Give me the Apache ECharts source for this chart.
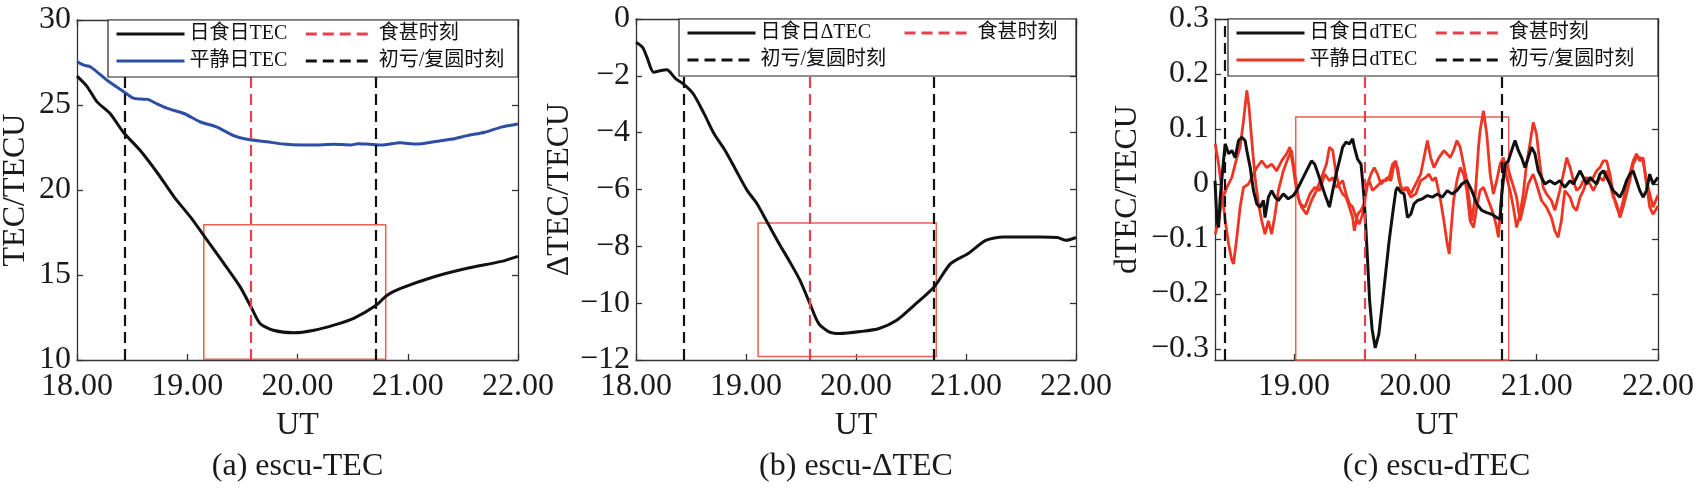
<!DOCTYPE html>
<html>
<head>
<meta charset="utf-8">
<script src="https://cdn.jsdelivr.net/npm/echarts/dist/echarts.min.js"></script>
<style>
  html, body { margin: 0; padding: 0; background: #fff; }
  #main { width: 1702px; height: 493px; }
</style>
</head>
<body>
<div id="main"></div>
<script>
// 字体：数字用衬线体，中文回退到思源黑体
var FONT = "'Liberation Serif', 'Noto Sans CJK SC', serif";

// ---- 事件时刻 (UT) ----
var eclipseMax = 19.58;            // 食甚时刻
var contactTimes = [18.435, 20.715]; // 初亏 / 复圆

// ---- (a) TEC ----
var aEclipseTime = [18.00, 18.09, 18.18, 18.30, 18.42, 18.57, 18.73, 18.88, 19.03, 19.18, 19.33, 19.48, 19.58, 19.66, 19.78, 19.97, 20.15, 20.33, 20.51, 20.71, 20.81, 20.93, 21.24, 21.54, 21.85, 22.00];
var aEclipseTEC = [26.7, 26.1, 25.2, 24.5, 23.4, 22.35, 21.0, 19.6, 18.4, 17.05, 15.7, 14.3, 13.1, 12.15, 11.75, 11.6, 11.75, 12.05, 12.45, 13.2, 13.8, 14.2, 14.9, 15.4, 15.8, 16.1];
var aQuietTime = [18.00, 18.06, 18.12, 18.20, 18.27, 18.35, 18.42, 18.51, 18.58, 18.64, 18.73, 18.82, 18.97, 19.12, 19.27, 19.42, 19.54, 19.72, 19.87, 20.04, 20.19, 20.33, 20.48, 20.55, 20.63, 20.78, 20.93, 21.08, 21.24, 21.39, 21.54, 21.70, 21.85, 22.00];
var aQuietTEC = [27.55, 27.35, 27.25, 26.85, 26.47, 26.1, 25.8, 25.4, 25.35, 25.33, 25.05, 24.8, 24.5, 24.0, 23.7, 23.2, 22.98, 22.84, 22.7, 22.65, 22.65, 22.69, 22.65, 22.72, 22.7, 22.65, 22.78, 22.7, 22.84, 22.98, 23.2, 23.4, 23.7, 23.88];
var aBoxTime = [19.15, 20.80];
var aBoxTEC = [10.05, 17.95];

// ---- (b) ΔTEC ----
var bTime = [18.00, 18.06, 18.10, 18.16, 18.23, 18.28, 18.36, 18.43, 18.52, 18.62, 18.71, 18.81, 18.91, 19.01, 19.10, 19.20, 19.30, 19.39, 19.49, 19.58, 19.66, 19.75, 19.85, 20.04, 20.21, 20.37, 20.53, 20.71, 20.86, 21.02, 21.18, 21.34, 21.51, 21.67, 21.83, 21.91, 22.00];
var bDeltaTEC = [-0.82, -1.0, -1.35, -1.87, -1.81, -1.79, -2.1, -2.28, -2.63, -3.34, -4.04, -4.63, -5.33, -6.03, -6.5, -7.2, -7.9, -8.49, -9.19, -10.01, -10.71, -11.0, -11.07, -11.0, -10.89, -10.6, -10.07, -9.43, -8.61, -8.25, -7.79, -7.67, -7.67, -7.67, -7.69, -7.79, -7.69];
var bBoxTime = [19.11, 20.73];
var bBoxTEC = [-11.88, -7.18];

// ---- (c) dTEC ----
var cEclipseTime = [18.350, 18.366, 18.380, 18.393, 18.420, 18.434, 18.462, 18.489, 18.516, 18.544, 18.571, 18.598, 18.612, 18.640, 18.667, 18.694, 18.722, 18.749, 18.762, 18.790, 18.817, 18.845, 18.872, 18.913, 18.954, 18.995, 19.022, 19.050, 19.077, 19.118, 19.145, 19.172, 19.200, 19.227, 19.254, 19.293, 19.320, 19.348, 19.375, 19.402, 19.430, 19.457, 19.484, 19.498, 19.525, 19.553, 19.566, 19.580, 19.594, 19.607, 19.624, 19.645, 19.670, 19.700, 19.730, 19.758, 19.785, 19.813, 19.840, 19.854, 19.881, 19.908, 19.936, 19.963, 19.990, 20.018, 20.059, 20.100, 20.141, 20.182, 20.223, 20.264, 20.302, 20.343, 20.384, 20.425, 20.466, 20.507, 20.548, 20.589, 20.630, 20.671, 20.699, 20.712, 20.740, 20.767, 20.794, 20.822, 20.849, 20.876, 20.904, 20.931, 20.958, 20.986, 21.013, 21.040, 21.068, 21.109, 21.150, 21.191, 21.232, 21.276, 21.303, 21.330, 21.358, 21.385, 21.412, 21.440, 21.467, 21.494, 21.522, 21.549, 21.577, 21.604, 21.631, 21.659, 21.686, 21.713, 21.741, 21.768, 21.795, 21.823, 21.850, 21.877, 21.905, 21.932, 21.959, 22.000];
var cEclipseDTEC = [0.006, -0.067, -0.079, -0.024, 0.042, 0.073, 0.055, 0.061, 0.048, 0.079, 0.085, 0.079, 0.061, 0.030, -0.012, -0.036, -0.042, -0.030, -0.061, -0.024, -0.012, -0.024, -0.030, -0.018, -0.027, -0.021, -0.012, 0.000, 0.012, 0.030, 0.042, 0.036, 0.018, 0.000, -0.018, -0.042, -0.012, 0.018, 0.042, 0.067, 0.076, 0.073, 0.082, 0.067, 0.045, 0.036, 0.006, -0.030, -0.085, -0.139, -0.212, -0.265, -0.298, -0.273, -0.215, -0.158, -0.103, -0.055, -0.012, -0.006, -0.015, -0.018, -0.061, -0.055, -0.036, -0.030, -0.027, -0.021, -0.024, -0.018, -0.024, -0.012, -0.018, -0.012, 0.000, 0.006, -0.012, -0.036, -0.048, -0.052, -0.055, -0.061, -0.064, -0.020, 0.036, 0.042, 0.061, 0.079, 0.061, 0.048, 0.030, 0.048, 0.067, 0.055, 0.024, 0.012, 0.000, 0.006, 0.000, 0.006, -0.006, 0.006, 0.000, 0.012, 0.024, 0.012, 0.000, 0.012, 0.006, 0.000, 0.018, 0.024, 0.012, 0.000, -0.012, -0.018, -0.024, -0.012, 0.006, 0.018, 0.024, 0.006, -0.012, -0.024, -0.012, 0.018, 0.000, 0.012];

var cQuiet1Time = [18.352, 18.380, 18.407, 18.448, 18.489, 18.530, 18.557, 18.585, 18.612, 18.631, 18.653, 18.680, 18.708, 18.735, 18.762, 18.790, 18.817, 18.845, 18.872, 18.913, 18.954, 18.981, 19.008, 19.036, 19.063, 19.104, 19.145, 19.186, 19.227, 19.268, 19.293, 19.320, 19.348, 19.375, 19.402, 19.430, 19.457, 19.484, 19.498, 19.525, 19.553, 19.580, 19.607, 19.635, 19.662, 19.689, 19.717, 19.744, 19.772, 19.799, 19.826, 19.854, 19.881, 19.908, 19.936, 19.963, 19.990, 20.018, 20.045, 20.072, 20.100, 20.127, 20.154, 20.195, 20.236, 20.261, 20.288, 20.316, 20.343, 20.370, 20.398, 20.425, 20.452, 20.466, 20.493, 20.521, 20.534, 20.562, 20.589, 20.617, 20.644, 20.671, 20.699, 20.726, 20.753, 20.781, 20.808, 20.835, 20.863, 20.890, 20.917, 20.945, 20.972, 20.999, 21.027, 21.054, 21.081, 21.122, 21.150, 21.191, 21.232, 21.248, 21.276, 21.303, 21.330, 21.358, 21.385, 21.412, 21.440, 21.467, 21.494, 21.522, 21.549, 21.577, 21.604, 21.631, 21.659, 21.686, 21.713, 21.741, 21.768, 21.795, 21.823, 21.850, 21.877, 21.905, 21.932, 21.959, 22.000];
var cQuiet1DTEC = [-0.091, -0.067, -0.030, -0.006, 0.012, 0.048, 0.067, 0.115, 0.170, 0.139, 0.079, 0.012, -0.036, -0.067, -0.091, -0.067, -0.091, -0.055, -0.012, 0.024, 0.048, 0.061, 0.018, -0.024, -0.042, -0.055, -0.030, -0.012, 0.012, 0.036, 0.067, 0.061, 0.018, -0.006, -0.018, -0.024, -0.042, -0.061, -0.085, -0.055, -0.048, -0.036, 0.000, 0.018, 0.030, 0.018, 0.000, 0.006, 0.012, 0.006, 0.036, 0.030, -0.006, -0.012, -0.006, -0.018, -0.006, 0.006, 0.018, 0.048, 0.079, 0.048, 0.030, 0.048, 0.061, 0.055, 0.048, 0.061, 0.079, 0.067, 0.036, 0.006, -0.042, -0.067, -0.024, 0.067, 0.097, 0.133, 0.091, 0.018, -0.018, 0.006, 0.036, 0.048, 0.012, -0.012, -0.042, -0.079, -0.055, -0.018, 0.036, 0.073, 0.112, 0.091, 0.036, -0.006, -0.018, -0.030, -0.048, -0.012, 0.030, 0.048, 0.030, 0.006, -0.012, -0.006, 0.006, 0.012, 0.006, 0.012, 0.024, 0.030, 0.042, 0.042, 0.018, -0.018, -0.042, -0.055, -0.030, 0.000, 0.018, 0.042, 0.055, 0.042, 0.048, 0.000, -0.042, -0.055, -0.040];

var cQuiet2Time = [18.352, 18.380, 18.407, 18.434, 18.462, 18.489, 18.503, 18.530, 18.557, 18.585, 18.626, 18.653, 18.694, 18.735, 18.776, 18.817, 18.858, 18.899, 18.940, 18.967, 18.995, 19.022, 19.050, 19.091, 19.132, 19.172, 19.213, 19.254, 19.293, 19.320, 19.348, 19.375, 19.402, 19.430, 19.457, 19.484, 19.512, 19.539, 19.566, 19.594, 19.621, 19.648, 19.676, 19.703, 19.730, 19.758, 19.785, 19.813, 19.840, 19.867, 19.895, 19.922, 19.963, 20.004, 20.045, 20.086, 20.113, 20.141, 20.168, 20.209, 20.236, 20.264, 20.280, 20.300, 20.316, 20.343, 20.370, 20.398, 20.425, 20.452, 20.480, 20.507, 20.534, 20.562, 20.603, 20.644, 20.671, 20.685, 20.699, 20.726, 20.753, 20.794, 20.835, 20.863, 20.890, 20.931, 20.972, 20.999, 21.040, 21.081, 21.122, 21.150, 21.177, 21.204, 21.232, 21.248, 21.276, 21.303, 21.330, 21.358, 21.385, 21.412, 21.440, 21.467, 21.494, 21.522, 21.549, 21.577, 21.604, 21.631, 21.659, 21.686, 21.713, 21.741, 21.768, 21.795, 21.823, 21.850, 21.877, 21.905, 21.932, 21.959, 22.000];
var cQuiet2DTEC = [0.073, 0.036, -0.012, -0.067, -0.109, -0.139, -0.145, -0.097, -0.042, -0.006, 0.000, 0.012, 0.030, 0.042, 0.030, 0.036, 0.024, 0.042, 0.055, 0.067, 0.030, -0.012, -0.036, -0.042, -0.018, -0.006, -0.012, 0.018, 0.006, 0.012, -0.006, 0.000, 0.006, -0.018, -0.036, -0.042, -0.061, -0.073, -0.055, -0.006, 0.006, -0.012, -0.006, 0.000, 0.006, 0.006, 0.012, 0.036, 0.042, 0.006, -0.012, -0.006, -0.024, -0.018, 0.006, 0.012, 0.018, 0.006, 0.012, -0.030, -0.067, -0.110, -0.127, -0.070, -0.030, 0.006, 0.030, 0.018, -0.012, -0.067, -0.079, -0.042, -0.012, -0.006, -0.030, -0.055, -0.079, -0.097, -0.055, 0.018, 0.036, 0.006, -0.024, -0.067, -0.042, 0.000, 0.018, 0.000, -0.030, -0.042, -0.061, -0.085, -0.097, -0.067, -0.012, -0.012, -0.024, -0.042, -0.048, -0.024, -0.012, 0.006, 0.000, -0.012, 0.000, 0.012, 0.006, 0.024, 0.000, -0.024, -0.036, -0.061, -0.042, -0.018, 0.006, 0.036, 0.048, 0.048, 0.042, 0.006, -0.018, -0.042, -0.020];
var cBoxTime = [19.015, 20.77];
var cBoxTEC = [-0.32, 0.122];

// ---- 坐标轴刻度 ----
var xTicks = [[18, 19, 20, 21, 22], [18, 19, 20, 21, 22], [19, 20, 21, 22]];
var xMins = [18, 18, 18.35];
var yTicks = [[10, 15, 20, 25, 30], [-12, -10, -8, -6, -4, -2, 0], [-0.3, -0.2, -0.1, 0, 0.1, 0.2, 0.3]];
var yRange = [[10, 30], [-12, 0], [-0.32, 0.3]];
var yNames = ['TEC/TECU', '\u0394TEC/TECU', 'dTEC/TECU'];
var captions = ['(a) escu-TEC', '(b) escu-\u0394TEC', '(c) escu-dTEC'];
var legendNames = [
    ['日食日TEC', '平静日TEC', '食甚时刻', '初亏/复圆时刻'],
    ['日食日\u0394TEC', '初亏/复圆时刻', '食甚时刻'],
    ['日食日dTEC', '平静日dTEC', '食甚时刻', '初亏/复圆时刻']
];

// 版面（像素）
var panels = [
    {left: 77, top: 20, right: 518, bottom: 360, box: 108, nameGap: 45},
    {left: 636, top: 19, right: 1076, bottom: 360, box: 679, nameGap: 51},
    {left: 1215, top: 19, right: 1658, bottom: 360, box: 1228, nameGap: 71}
];

var AXIS_COLOR = '#333';
var BLACK = '#111';
var BLUE = '#2c4ea5';
var RED = '#ee3523';
var RED_DASH = '#e6404e';
var BOX_RED = '#e8604f';

function zip(t, v) {
    var out = [];
    for (var i = 0; i < t.length; i++) out.push([t[i], v[i]]);
    return out;
}

function minus(v) {
    return String(v).replace('-', '\u2212');
}

function MakeAxes() {
    var xAxes = [], yAxes = [];
    for (var i = 0; i < 3; i++) {
        var p = panels[i];
        var lineStyle = {color: AXIS_COLOR, width: 1.3};
        // 下方 x 轴
        xAxes.push({
            type: 'value', gridIndex: i, min: xMins[i], max: 22, position: 'bottom',
            axisLine: {show: true, onZero: false, lineStyle: lineStyle},
            axisTick: {show: true, inside: true, length: 6, lineStyle: lineStyle, customValues: xTicks[i]},
            axisLabel: {
                customValues: xTicks[i], margin: 11, fontSize: 32, fontFamily: FONT, color: '#1a1a1a',
                formatter: function (v) { return v.toFixed(2); }
            },
            splitLine: {show: false},
            name: 'UT', nameLocation: 'middle', nameGap: 50,
            nameTextStyle: {fontSize: 32, fontFamily: FONT, color: '#1a1a1a'}
        });
        // 左侧 y 轴
        yAxes.push({
            type: 'value', gridIndex: i, min: yRange[i][0], max: yRange[i][1], position: 'left',
            axisLine: {show: true, onZero: false, lineStyle: lineStyle},
            axisTick: {show: true, inside: true, length: 6, lineStyle: lineStyle, customValues: yTicks[i]},
            axisLabel: {
                customValues: yTicks[i], margin: 6, fontSize: 32, fontFamily: FONT, color: '#1a1a1a',
                formatter: minus
            },
            splitLine: {show: false},
            name: yNames[i], nameLocation: 'middle', nameGap: p.nameGap,
            nameTextStyle: {fontSize: 32, fontFamily: FONT, color: '#1a1a1a'}
        });
    }
    // 上方、右侧镜像轴，只画刻度
    for (var j = 0; j < 3; j++) {
        var ls = {color: AXIS_COLOR, width: 1.3};
        xAxes.push({
            type: 'value', gridIndex: j, min: xMins[j], max: 22, position: 'top',
            axisLine: {show: true, onZero: false, lineStyle: ls},
            axisTick: {show: true, inside: true, length: 6, lineStyle: ls, customValues: xTicks[j]},
            axisLabel: {show: false}, splitLine: {show: false}
        });
        yAxes.push({
            type: 'value', gridIndex: j, min: yRange[j][0], max: yRange[j][1], position: 'right',
            axisLine: {show: true, onZero: false, lineStyle: ls},
            axisTick: {show: true, inside: true, length: 6, lineStyle: ls, customValues: yTicks[j]},
            axisLabel: {show: false}, splitLine: {show: false}
        });
    }
    return {x: xAxes, y: yAxes};
}

function CurveSeries(name, idx, data, color, width, smooth) {
    return {
        name: name, type: 'line', xAxisIndex: idx, yAxisIndex: idx,
        data: data, showSymbol: false, symbol: 'none', smooth: smooth,
        lineStyle: {color: color, width: width},
        itemStyle: {color: color},
        z: 3
    };
}

// 竖直虚线：食甚 / 初亏复圆
function TimeLineSeries(name, idx, times, color) {
    return {
        name: name, type: 'line', xAxisIndex: idx, yAxisIndex: idx, data: [],
        symbol: 'none',
        lineStyle: {color: color, width: 2.2, type: [11, 6]},
        itemStyle: {color: color},
        markLine: {
            silent: true, symbol: ['none', 'none'], label: {show: false},
            lineStyle: {color: color, width: 2.2, type: [11, 6]},
            emphasis: {disabled: true},
            data: times.map(function (t) { return {xAxis: t}; })
        }
    };
}

// 红色方框
function BoxSeries(idx, bx, by) {
    return {
        name: 'box' + idx, type: 'line', xAxisIndex: idx, yAxisIndex: idx, data: [],
        markArea: {
            silent: true,
            itemStyle: {color: 'rgba(0,0,0,0)', borderColor: BOX_RED, borderWidth: 1.5},
            emphasis: {disabled: true},
            data: [[{coord: [bx[0], by[0]]}, {coord: [bx[1], by[1]]}]]
        }
    };
}

function GetOption() {
    var axes = MakeAxes();
    var series = [
        // (a)
        BoxSeries(0, aBoxTime, aBoxTEC),
        TimeLineSeries('食甚时刻', 0, [eclipseMax], RED_DASH),
        TimeLineSeries('初亏/复圆时刻', 0, contactTimes, BLACK),
        CurveSeries('平静日TEC', 0, zip(aQuietTime, aQuietTEC), BLUE, 3, 0.25),
        CurveSeries('日食日TEC', 0, zip(aEclipseTime, aEclipseTEC), BLACK, 3, 0.25),
        // (b)
        BoxSeries(1, bBoxTime, bBoxTEC),
        TimeLineSeries('食甚时刻', 1, [eclipseMax], RED_DASH),
        TimeLineSeries('初亏/复圆时刻', 1, contactTimes, BLACK),
        CurveSeries('日食日\u0394TEC', 1, zip(bTime, bDeltaTEC), BLACK, 3, 0.25),
        // (c)
        BoxSeries(2, cBoxTime, cBoxTEC),
        TimeLineSeries('食甚时刻', 2, [eclipseMax], RED_DASH),
        TimeLineSeries('初亏/复圆时刻', 2, contactTimes, BLACK),
        CurveSeries('平静日dTEC', 2, zip(cQuiet1Time, cQuiet1DTEC), RED, 2.8, false),
        CurveSeries('平静日dTEC', 2, zip(cQuiet2Time, cQuiet2DTEC), RED, 2.8, false),
        CurveSeries('日食日dTEC', 2, zip(cEclipseTime, cEclipseDTEC), BLACK, 3, false)
    ];

    var legends = panels.map(function (p, i) {
        return {
            data: legendNames[i], orient: 'vertical', left: p.box + 7, top: p.top + 4, height: 52,
            itemWidth: 68, itemHeight: 12, itemGap: 7, selectedMode: false, z: 20,
            padding: 0,
            itemStyle: {opacity: 0, borderWidth: 0},
            lineStyle: {width: 3},
            textStyle: {fontSize: 20, fontFamily: FONT, color: '#111', lineHeight: 20, padding: [0, 10, 0, 0]}
        };
    });

    var graphics = panels.map(function (p) {
        return {
            type: 'rect', z: 10, silent: true,
            shape: {x: p.box, y: p.top, width: p.right - p.box, height: 57},
            style: {fill: '#fff', stroke: '#222', lineWidth: 1.2}
        };
    });

    var titles = panels.map(function (p, i) {
        return {
            text: captions[i], left: (p.left + p.right) / 2, top: 451, textAlign: 'center', padding: 0,
            textStyle: {fontSize: 32, fontWeight: 'normal', fontFamily: FONT, color: '#1a1a1a'}
        };
    });

    return {
        backgroundColor: '#fff',
        animation: false,
        title: titles,
        legend: legends,
        graphic: graphics,
        grid: panels.map(function (p) {
            return {left: p.left, top: p.top, width: p.right - p.left, height: p.bottom - p.top,
                    containLabel: false, outerBoundsMode: 'none', show: false};
        }),
        xAxis: axes.x,
        yAxis: axes.y,
        series: series
    };
}

var myChart = echarts.init(document.getElementById('main'));
myChart.setOption(GetOption());
</script>
</body>
</html>
